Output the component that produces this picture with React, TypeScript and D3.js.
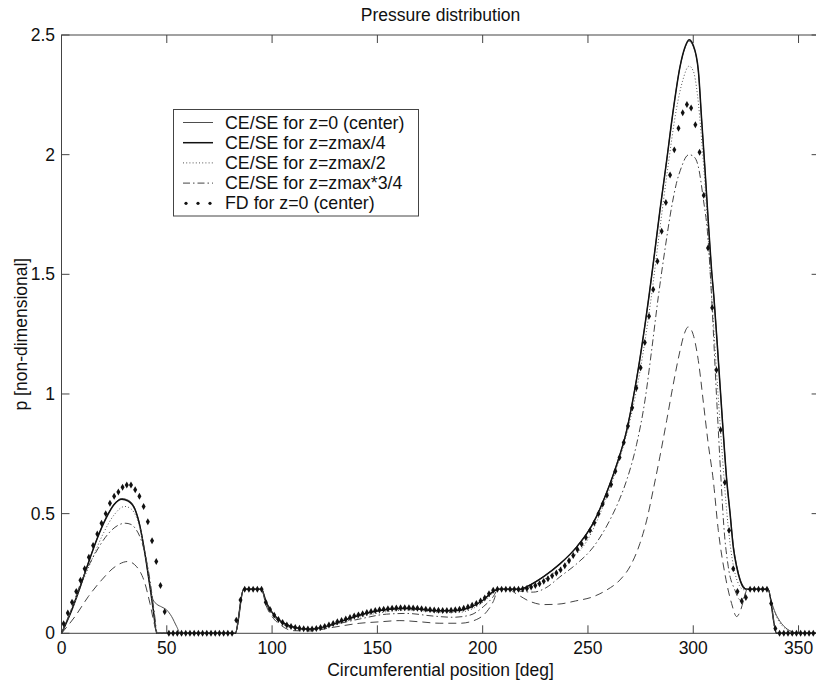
import React from 'react';
import * as d3 from 'd3';

type Pt = [number, number];

const TITLE = 'Pressure distribution';
const X_LABEL = 'Circumferential position [deg]';
const Y_LABEL = 'p [non-dimensional]';
const X_TICKS = [0, 50, 100, 150, 200, 250, 300, 350];
const Y_TICKS = [0, 0.5, 1, 1.5, 2, 2.5];
const Y_TICK_LABELS = ['0', '0.5', '1', '1.5', '2', '2.5'];

const LEGEND_LABELS = [
  'CE/SE for z=0 (center)',
  'CE/SE for z=zmax/4',
  'CE/SE for z=zmax/2',
  'CE/SE for z=zmax*3/4',
  'FD for z=0 (center)',
];

// CE/SE for z=0 (center) - thin solid
const CE_Z0: Pt[] = [
  [0, 0], [5, 0.102], [9, 0.2], [13, 0.302], [17, 0.398], [21, 0.48], [25, 0.54], [28.6, 0.563], [31.7, 0.556],
  [35, 0.518], [37.3, 0.448], [39.6, 0.336], [42, 0.2], [43.4, 0.142], [45.2, 0.122], [47.6, 0.11], [50, 0.097],
  [52.3, 0.07], [54.7, 0.028], [56.5, 0], [82.5, 0], [86.5, 0.184], [95, 0.184], [97, 0.136], [99, 0.102],
  [101, 0.078], [103, 0.06], [106, 0.041], [110, 0.027], [114, 0.02], [118, 0.018], [124, 0.025], [132, 0.048],
  [140, 0.072], [148, 0.09], [156, 0.101], [163, 0.104], [170, 0.101], [178, 0.094], [186, 0.094], [194, 0.109],
  [200, 0.138], [204, 0.168], [207.5, 0.184], [218, 0.184], [221, 0.196], [228.8, 0.237], [236.7, 0.291],
  [244.6, 0.362], [252.5, 0.462], [258.9, 0.59], [263.6, 0.705], [268.4, 0.85], [271.5, 0.985], [274.7, 1.15],
  [277.1, 1.29], [279, 1.41], [281, 1.545], [284.2, 1.768], [287.4, 1.977], [290.5, 2.186], [293.7, 2.367],
  [296.1, 2.447], [298, 2.475], [300, 2.452], [302.4, 2.35], [304, 2.144], [305.6, 1.935], [307.1, 1.726],
  [308.7, 1.518], [309.8, 1.406], [312, 1.13], [314, 0.87], [315.9, 0.64], [317.5, 0.5], [319, 0.37],
  [320.6, 0.285], [322.2, 0.228], [324, 0.195], [325.5, 0.184], [335.5, 0.184], [337.2, 0.13], [339, 0.085],
  [341.2, 0.05], [344, 0.022], [347.5, 0.005], [350, 0], [360, 0],
];

// CE/SE for z=zmax/4 - thick solid
const CE_ZQ: Pt[] = [
  [0, 0], [5, 0.1], [9, 0.197], [13, 0.3], [17, 0.397], [21, 0.478], [25, 0.538], [28.6, 0.56], [31.7, 0.552],
  [35, 0.515], [37.3, 0.445], [39.6, 0.334], [42, 0.195], [43.6, 0.097], [45.2, 0], [82.5, 0], [86.5, 0.184],
  [95, 0.184], [97, 0.135], [99, 0.1], [101, 0.076], [103, 0.058], [106, 0.04], [110, 0.026], [114, 0.019],
  [118, 0.017], [124, 0.024], [132, 0.047], [140, 0.071], [148, 0.09], [156, 0.101], [163, 0.104], [170, 0.101],
  [178, 0.094], [186, 0.094], [194, 0.108], [200, 0.137], [204, 0.168], [207.5, 0.184], [218, 0.184],
  [221, 0.195], [228.8, 0.236], [236.7, 0.29], [244.6, 0.36], [252.5, 0.46], [258.9, 0.588], [263.6, 0.703],
  [268.4, 0.848], [271.5, 0.983], [274.7, 1.148], [277.1, 1.29], [279, 1.41], [281, 1.545], [284.2, 1.768],
  [287.4, 1.977], [290.5, 2.186], [293.7, 2.367], [296.1, 2.45], [298, 2.48], [300, 2.457], [302.4, 2.353],
  [304, 2.144], [305.6, 1.935], [307.1, 1.726], [308.7, 1.518], [309.8, 1.406], [312, 1.13], [314, 0.87],
  [315.9, 0.64], [317.5, 0.5], [319, 0.36], [320.6, 0.278], [322.2, 0.223], [324, 0.19], [325.5, 0.184],
  [335.5, 0.184], [339.6, 0], [360, 0],
];

// CE/SE for z=zmax/2 - dotted
const CE_ZH: Pt[] = [
  [0, 0], [5, 0.1], [10, 0.215], [15, 0.32], [20, 0.42], [25, 0.495], [30, 0.53], [33, 0.52], [36, 0.475],
  [39, 0.37], [42, 0.2], [44, 0.08], [45.3, 0], [82.5, 0], [86.5, 0.184], [95, 0.184], [97, 0.132], [100, 0.088],
  [104, 0.052], [110, 0.025], [118, 0.016], [126, 0.026], [134, 0.047], [142, 0.068], [150, 0.084], [158, 0.094],
  [165, 0.097], [172, 0.093], [180, 0.087], [188, 0.087], [195, 0.102], [201, 0.136], [205, 0.168],
  [207.5, 0.184], [216, 0.184], [221, 0.188], [230, 0.23], [240, 0.296], [250, 0.393], [258, 0.55], [264, 0.7],
  [270, 0.89], [275, 1.11], [280, 1.4], [284, 1.68], [288, 1.95], [292, 2.19], [295, 2.31], [298, 2.37],
  [300, 2.35], [302, 2.25], [304, 2.06], [306, 1.82], [308, 1.52], [310, 1.24], [312, 0.97], [314, 0.72],
  [316, 0.5], [318, 0.34], [320, 0.245], [322, 0.198], [324, 0.182], [325.5, 0.184], [335.5, 0.184],
  [337.2, 0.125], [339, 0.08], [341, 0.045], [344, 0.018], [348, 0.003], [350, 0], [360, 0],
];

// CE/SE for z=zmax*3/4 - dash-dot
const CE_Z34: Pt[] = [
  [0, 0], [3.2, 0.068], [9.6, 0.22], [15.9, 0.332], [22.2, 0.416], [27, 0.452], [30.2, 0.46], [33, 0.455],
  [34.9, 0.44], [38.8, 0.362], [42, 0.223], [44.1, 0.084], [45.5, 0], [82.5, 0], [86.5, 0.184], [95, 0.184],
  [97, 0.128], [100, 0.08], [104, 0.045], [110, 0.022], [118, 0.015], [129, 0.035], [141.7, 0.06],
  [154.4, 0.08], [163.9, 0.083], [176.5, 0.072], [186, 0.067], [194, 0.076], [200.3, 0.111], [205, 0.153],
  [207.5, 0.184], [214, 0.184], [218, 0.176], [224, 0.172], [230, 0.19], [236.7, 0.236], [244.6, 0.29],
  [252.5, 0.36], [260.4, 0.473], [265, 0.56], [268.4, 0.64], [273.1, 0.79], [277.1, 0.975], [280.2, 1.18],
  [283.4, 1.406], [286.5, 1.6], [289.7, 1.78], [292, 1.88], [294.5, 1.95], [296.5, 1.99], [298, 2.0],
  [300.5, 1.99], [302.4, 1.95], [304.7, 1.82], [307.1, 1.64], [308.7, 1.406], [311, 1.0], [313.2, 0.64],
  [314.5, 0.45], [316.6, 0.28], [319.8, 0.18], [322.2, 0.14], [324, 0.148], [325.5, 0.184], [335.5, 0.184],
  [339.6, 0], [360, 0],
];

// unlabeled dashed curve
const CE_ZMAX: Pt[] = [
  [0, 0], [6.4, 0.07], [12.7, 0.153], [19.1, 0.223], [25.4, 0.278], [31.5, 0.3], [35.7, 0.278], [39.6, 0.209],
  [42, 0.125], [44.4, 0.028], [45.5, 0], [82.5, 0], [86.5, 0.184], [95, 0.184], [97, 0.12], [100, 0.07],
  [104, 0.035], [110, 0.011], [118, 0.01], [129, 0.025], [141.7, 0.042], [151.2, 0.048], [160.7, 0.053],
  [170.2, 0.048], [179.7, 0.042], [189.2, 0.042], [197.2, 0.058], [201.9, 0.09], [205, 0.132], [207.5, 0.184],
  [212, 0.184], [216, 0.165], [222, 0.135], [229, 0.12], [236, 0.122], [244, 0.135], [252.5, 0.153],
  [258.9, 0.181], [265.2, 0.223], [269.9, 0.278], [274.7, 0.376], [277.9, 0.473], [281, 0.6], [284.2, 0.74],
  [287.4, 0.89], [290.5, 1.04], [293.7, 1.18], [295.7, 1.25], [297.6, 1.28], [299.5, 1.26], [302.4, 1.14],
  [305, 0.95], [307, 0.8], [309.5, 0.64], [311.9, 0.43], [315, 0.25], [318.2, 0.125], [320.6, 0.07],
  [322.2, 0.09], [324.6, 0.16], [325.5, 0.184], [335.5, 0.184], [339.6, 0], [360, 0],
];

// FD for z=0 (center): one value per odd degree 1, 3, ..., 359
const FD_X = d3.range(1, 360, 2);
const FD_P = [
  // 1..49
  0.04, 0.085, 0.13, 0.175, 0.222, 0.27, 0.318, 0.367, 0.415, 0.46, 0.5, 0.543, 0.573, 0.59, 0.61, 0.62, 0.62,
  0.6, 0.573, 0.53, 0.466, 0.387, 0.3, 0.2, 0.09,
  // 51..81
  0, 0, 0, 0, 0, 0, 0, 0, 0, 0, 0, 0, 0, 0, 0, 0,
  // 83..95
  0.055, 0.139, 0.184, 0.184, 0.184, 0.184, 0.184,
  // 97..205
  0.13, 0.1, 0.076, 0.058, 0.045, 0.035, 0.028, 0.024, 0.021, 0.019, 0.018, 0.018, 0.02, 0.024, 0.029, 0.035,
  0.041, 0.048, 0.054, 0.06, 0.066, 0.072, 0.077, 0.082, 0.087, 0.091, 0.095, 0.098, 0.101, 0.103, 0.105,
  0.106, 0.107, 0.107, 0.107, 0.106, 0.105, 0.103, 0.101, 0.099, 0.097, 0.096, 0.095, 0.095, 0.096, 0.098,
  0.101, 0.105, 0.11, 0.117, 0.125, 0.135, 0.148, 0.165, 0.18,
  // 207..217
  0.184, 0.184, 0.184, 0.184, 0.184, 0.184,
  // 219..325
  0.185, 0.187, 0.193, 0.2, 0.207, 0.217, 0.228, 0.24, 0.252, 0.265, 0.282, 0.303, 0.325, 0.35, 0.373, 0.4,
  0.43, 0.462, 0.5, 0.54, 0.577, 0.622, 0.677, 0.735, 0.797, 0.866, 0.942, 1.025, 1.11, 1.215, 1.325, 1.437,
  1.555, 1.68, 1.8, 1.915, 2.02, 2.11, 2.175, 2.21, 2.195, 2.125, 2.01, 1.83, 1.61, 1.36, 1.1, 0.85, 0.63,
  0.43, 0.27, 0.175, 0.135, 0.15,
  // 327..335
  0.184, 0.184, 0.184, 0.184, 0.184,
  // 337..359
  0.125, 0.02, 0, 0, 0, 0, 0, 0, 0, 0, 0, 0,
];

const W = 816;
const H = 681;
const PLOT = { left: 61.5, right: 819.6, top: 35, bottom: 633.3 };
const FONT = '"Liberation Sans", Arial, Helvetica, sans-serif';
const FS = 17.5;
const LEGEND_FS = 17.8;

const LINE_STYLES = [
  { data: CE_Z0, color: '#3a3a3a', width: 0.9, dash: undefined as string | undefined },
  { data: CE_ZQ, color: '#111', width: 1.5, dash: undefined as string | undefined },
  { data: CE_ZH, color: '#555', width: 1, dash: '1,2.2' },
  { data: CE_Z34, color: '#444', width: 1, dash: '7,3,1.5,3' },
  { data: CE_ZMAX, color: '#444', width: 1, dash: '8,5' },
];

export default function App() {
  const x = d3.scaleLinear().domain([0, 360]).range([PLOT.left, PLOT.right]);
  const y = d3.scaleLinear().domain([0, 2.5]).range([PLOT.bottom, PLOT.top]);
  const line = d3
    .line<Pt>()
    .x((d) => x(d[0]))
    .y((d) => y(d[1]))
    .curve(d3.curveMonotoneX);
  const diamond = d3.symbol().type(d3.symbolDiamond).size(14)() || '';
  const n = Math.min(FD_X.length, FD_P.length);
  const fdPts: Pt[] = d3.range(n).map((i) => [FD_X[i], FD_P[i]] as Pt);

  const tickLen = 8;
  const axisColor = '#444';
  const cx = (PLOT.left + PLOT.right) / 2;

  const legend = { x: 173.5, y: 109.5, w: 245, h: 106.5, rowY0: 122.5, rowDy: 20.2, lineX0: 183, lineX1: 213, textX: 225 };

  return (
    <svg
      width={W}
      height={H}
      viewBox={`0 0 ${W} ${H}`}
      style={{ position: 'absolute', left: 0, top: 0, background: '#fff' }}
      fontFamily={FONT}
    >
      <rect x={0} y={0} width={W} height={H} fill="#fff" />
      <text x={cx} y={21} textAnchor="middle" fontSize={FS} fill="#111">
        {TITLE}
      </text>

      {/* frame */}
      <rect
        x={PLOT.left}
        y={PLOT.top}
        width={PLOT.right - PLOT.left}
        height={PLOT.bottom - PLOT.top}
        fill="none"
        stroke={axisColor}
        strokeWidth={1}
      />

      {/* x ticks */}
      {X_TICKS.map((t) => (
        <g key={`xt${t}`}>
          <line x1={x(t)} x2={x(t)} y1={PLOT.bottom} y2={PLOT.bottom - tickLen} stroke={axisColor} />
          <line x1={x(t)} x2={x(t)} y1={PLOT.top} y2={PLOT.top + tickLen} stroke={axisColor} />
          <text x={x(t)} y={654} textAnchor="middle" fontSize={FS} fill="#111">
            {t}
          </text>
        </g>
      ))}

      {/* y ticks */}
      {Y_TICKS.map((t, i) => (
        <g key={`yt${t}`}>
          <line x1={PLOT.left} x2={PLOT.left + tickLen} y1={y(t)} y2={y(t)} stroke={axisColor} />
          <line x1={PLOT.right} x2={PLOT.right - tickLen} y1={y(t)} y2={y(t)} stroke={axisColor} />
          <text x={55} y={y(t) + 6} textAnchor="end" fontSize={FS} fill="#111">
            {Y_TICK_LABELS[i]}
          </text>
        </g>
      ))}

      <text x={cx} y={676} textAnchor="middle" fontSize={FS} fill="#111">
        {X_LABEL}
      </text>
      <text
        transform={`translate(27, ${(PLOT.top + PLOT.bottom) / 2}) rotate(-90)`}
        textAnchor="middle"
        fontSize={FS}
        fill="#111"
      >
        {Y_LABEL}
      </text>

      {/* curves */}
      {LINE_STYLES.map((s, i) => (
        <path
          key={`ln${i}`}
          d={line(s.data) || ''}
          fill="none"
          stroke={s.color}
          strokeWidth={s.width}
          strokeDasharray={s.dash}
        />
      ))}

      {/* FD markers */}
      {fdPts.map((p, i) => (
        <path key={`fd${i}`} d={diamond} transform={`translate(${x(p[0])},${y(p[1])})`} fill="#111" />
      ))}

      {/* legend */}
      <rect
        x={legend.x}
        y={legend.y}
        width={legend.w}
        height={legend.h}
        fill="#fff"
        stroke={axisColor}
        strokeWidth={1}
      />
      {LEGEND_LABELS.map((lab, i) => {
        const ry = legend.rowY0 + i * legend.rowDy;
        const st = LINE_STYLES[i];
        return (
          <g key={`lg${i}`}>
            {i < 4 ? (
              <line
                x1={legend.lineX0}
                x2={legend.lineX1}
                y1={ry}
                y2={ry}
                stroke={st.color}
                strokeWidth={st.width}
                strokeDasharray={st.dash}
              />
            ) : (
              [0, 1, 2].map((k) => (
                <circle key={k} cx={legend.lineX0 + 3 + k * 12} cy={ry} r={1.6} fill="#111" />
              ))
            )}
            <text x={legend.textX} y={ry + 6} fontSize={LEGEND_FS} fill="#111">
              {lab}
            </text>
          </g>
        );
      })}
    </svg>
  );
}
